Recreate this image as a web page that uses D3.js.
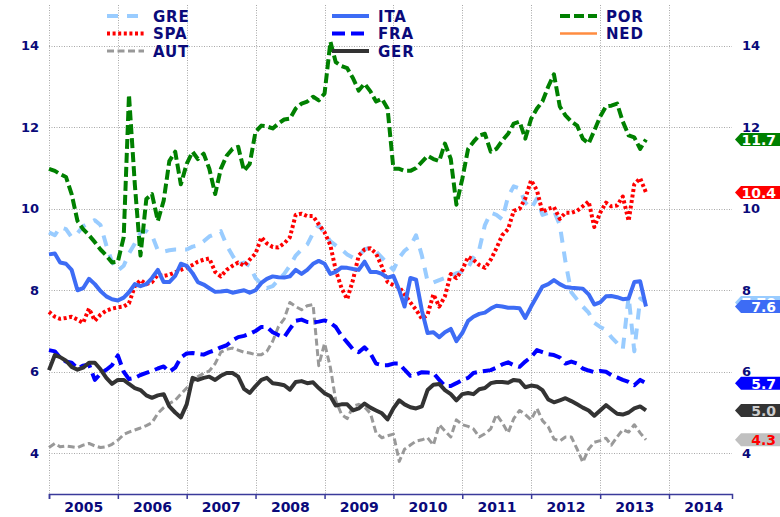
<!DOCTYPE html>
<html>
<head>
<meta charset="utf-8">
<script src="https://cdn.jsdelivr.net/npm/d3@7/dist/d3.min.js"></script>
<style>
  body { margin: 0; background: #fff; }
  svg { display: block; font-family: "DejaVu Sans", Verdana, sans-serif; font-weight: bold; }
</style>
</head>
<body>
<svg id="chart" width="780" height="517"></svg>
<script>
// monthly values, Jan 2005 .. Sep 2013
const firstMonth = new Date(2005, 0, 1);

const gre = [
  9.42, 9.35, 9.55, 9.5, 9.3, 9.4, 9.57, 9.65, 9.72, 9.6, 9.1, 8.7,
  8.48, 8.6, 8.9, 9.15, 9.42, 9.45, 9.35, 8.98, 8.95, 8.98, 9.0, 9.0,
  9.0, 9.07, 9.1, 9.2, 9.32, 9.38, 9.45, 9.1, 8.85, 8.63, 8.68, 8.6,
  8.3, 8.15, 8.05, 8.1, 8.25, 8.4, 8.6, 8.85, 9.0, 9.12, 9.4, 9.6,
  9.4, 9.2, 9.1, 9.0, 8.88, 8.8, 8.85, 9.0, 9.05, 8.95, 8.8, 8.65,
  8.5, 8.8, 8.97, 9.08, 9.35, 8.85, 8.22, 8.19, 8.25, 8.3, 8.34, 8.42,
  8.45, 8.55, 8.8, 9.0, 9.6, 9.9, 9.85, 9.74, 10.3, 10.55, 10.5, 10.15,
  10.0, 10.25, 9.85, 9.9, 9.95, 9.6, 8.7, 7.95, 7.77, 7.6, 7.45, 7.2,
  7.1, 7.03, 6.85, 6.7, 6.55, 7.85, 6.5, 7.8, 7.7
];
const spa = [
  7.47, 7.35, 7.3, 7.32, 7.35, 7.28, 7.2, 7.55, 7.25, 7.4, 7.5, 7.55,
  7.58, 7.6, 7.68, 8.1, 8.25, 8.15, 8.2, 8.38, 8.35, 8.38, 8.44, 8.5,
  8.56, 8.62, 8.7, 8.75, 8.78, 8.45, 8.34, 8.5, 8.6, 8.68, 8.6, 8.75,
  8.9, 9.3, 9.15, 9.06, 9.05, 9.15, 9.3, 9.85, 9.88, 9.82, 9.82, 9.62,
  9.42, 9.1, 8.5, 8.05, 7.78, 8.26, 8.85, 9.0, 9.03, 8.9, 8.58, 8.2,
  8.12, 8.08, 7.9, 7.7, 7.52, 7.3, 7.4, 7.9, 7.6, 7.85, 8.4, 8.3,
  8.5, 8.82, 8.75, 8.62, 8.55, 8.75, 9.03, 9.35, 9.5, 9.95, 10.0, 10.25,
  10.7, 10.45, 9.92, 10.0, 10.04, 9.75, 9.9, 9.9, 9.95, 10.06, 10.18, 9.55,
  9.9, 10.15, 10.06, 10.08, 10.3, 9.7, 10.6, 10.75, 10.4
];
const aut = [
  4.14, 4.24, 4.16, 4.18, 4.16, 4.14, 4.2, 4.24, 4.18, 4.14, 4.16, 4.22,
  4.32, 4.46, 4.52, 4.57, 4.62, 4.68, 4.75, 4.98, 5.12, 5.22, 5.3, 5.45,
  5.6, 5.75, 5.88, 5.96, 6.02, 6.2, 6.48, 6.55, 6.58, 6.53, 6.48, 6.46,
  6.42, 6.42, 6.5, 6.75, 7.1, 7.3, 7.7, 7.6, 7.52, 7.62, 7.65, 6.15,
  6.7, 6.1, 5.3, 4.95, 4.85, 5.15, 5.2, 5.13, 4.98, 4.5, 4.38, 4.43,
  4.47, 3.8, 4.1, 4.2, 4.3, 4.33, 4.38, 4.2, 4.7, 4.55, 4.4, 4.82,
  4.7, 4.66, 4.6, 4.4, 4.48, 4.6, 4.95, 4.75, 4.5, 4.85, 5.05, 4.95,
  4.82, 5.1, 4.8, 4.65, 4.35, 4.3, 4.4, 4.4, 4.1, 3.78, 4.1, 4.27,
  4.31, 4.37, 4.2, 4.4, 4.58, 4.52, 4.7, 4.5, 4.33
];
const ita = [
  8.88, 8.9, 8.68, 8.65, 8.5, 8.0, 8.05, 8.28, 8.15, 7.98, 7.85, 7.78,
  7.75, 7.82, 7.95, 8.15, 8.1, 8.15, 8.3, 8.5, 8.2, 8.2, 8.35, 8.65,
  8.6, 8.42, 8.2, 8.14, 8.05, 7.96, 7.97, 7.99, 7.94, 7.97, 8.0, 7.94,
  8.0, 8.18, 8.28, 8.34, 8.32, 8.31, 8.34, 8.5, 8.4, 8.5, 8.65, 8.72,
  8.65, 8.4, 8.45, 8.56, 8.55, 8.52, 8.5, 8.7, 8.45, 8.45, 8.4, 8.31,
  8.35, 8.0, 7.6, 8.3, 8.26, 7.5, 6.95, 6.97, 6.85, 6.97, 7.05, 6.75,
  6.95, 7.25, 7.35, 7.42, 7.45, 7.55, 7.62, 7.6, 7.57, 7.57, 7.56, 7.32,
  7.6, 7.85, 8.09, 8.15, 8.25, 8.15, 8.08, 8.06, 8.05, 8.04, 7.9, 7.65,
  7.7, 7.85, 7.86, 7.83, 7.78, 7.8, 8.2, 8.22, 7.6
];
const fra = [
  6.53, 6.5, 6.35, 6.25, 6.22, 6.08, 6.15, 6.18, 5.8, 5.95, 6.05, 6.16,
  6.4, 6.0, 5.82, 5.85, 5.92, 5.97, 6.02, 6.08, 6.13, 6.0, 6.1, 6.35,
  6.45, 6.46, 6.44, 6.42, 6.48, 6.53, 6.6, 6.65, 6.77, 6.85, 6.88, 6.93,
  7.0, 7.1, 7.1, 6.97, 6.9, 6.85, 7.05, 7.25, 7.28, 7.22, 7.21, 7.23,
  7.26, 7.2, 7.1, 6.88, 6.72, 6.55, 6.48, 6.6, 6.45, 6.2, 6.16, 6.16,
  6.2, 6.2, 6.05, 5.9, 5.93, 5.99, 5.98, 5.97, 5.8, 5.65, 5.65, 5.72,
  5.8, 5.85, 5.97, 6.0, 6.02, 6.04, 6.1, 6.18, 6.23, 6.16, 6.12, 6.25,
  6.36, 6.53, 6.48, 6.43, 6.41, 6.35, 6.2, 6.25, 6.2, 6.08, 6.03, 5.99,
  6.02, 6.0, 5.92, 5.86, 5.8, 5.75, 5.67, 5.8, 5.72
];
const ger = [
  6.04, 6.41, 6.36, 6.27, 6.12, 6.05, 6.1, 6.22, 6.22, 6.06, 5.85, 5.7,
  5.8, 5.8, 5.7, 5.6, 5.55, 5.42, 5.36, 5.42, 5.45, 5.15, 5.0, 4.88,
  5.2, 5.85, 5.8, 5.85, 5.88, 5.8, 5.9, 5.97, 5.97, 5.88, 5.58, 5.48,
  5.65, 5.8, 5.85, 5.72, 5.7, 5.67, 5.56, 5.75, 5.77, 5.72, 5.74, 5.6,
  5.47, 5.4, 5.17, 5.2, 5.2, 5.05, 5.1, 5.22, 5.12, 5.05, 4.98, 4.83,
  5.1, 5.3, 5.2, 5.13, 5.1, 5.15, 5.55, 5.68, 5.7, 5.55, 5.45, 5.3,
  5.45, 5.48, 5.45, 5.57, 5.6, 5.72, 5.75, 5.75, 5.73, 5.8, 5.78, 5.62,
  5.66, 5.64, 5.55, 5.32, 5.25, 5.3, 5.35, 5.28, 5.2, 5.12, 5.05, 4.92,
  5.05, 5.18, 5.08, 4.97, 4.95, 5.0, 5.1, 5.15, 5.05
];
const por = [
  10.98, 10.93, 10.85, 10.78, 10.36, 9.7, 9.5, 9.35, 9.18, 9.0, 8.85, 8.68,
  8.7, 9.3, 12.8, 10.6, 8.85, 10.24, 10.36, 9.7, 10.2, 11.17, 11.4, 10.6,
  11.1, 11.4, 11.22, 11.35, 10.98, 10.36, 10.98, 11.3, 11.47, 11.52, 10.93, 11.1,
  11.89, 12.04, 12.02, 11.97, 12.09, 12.19, 12.21, 12.46, 12.58, 12.63, 12.75, 12.66,
  12.83, 14.1, 13.6, 13.5, 13.45, 13.2, 12.9, 13.07, 12.88, 12.63, 12.7, 12.46,
  10.98, 10.98, 10.93, 10.93, 11.0, 11.15, 11.3, 11.22, 11.17, 11.6, 11.22, 10.1,
  10.73, 11.47, 11.64, 11.8, 11.84, 11.4, 11.47, 11.67, 11.84, 12.09, 12.14, 11.72,
  12.21, 12.46, 12.63, 13.0, 13.3, 12.51, 12.29, 12.14, 12.04, 11.72, 11.6, 11.92,
  12.26, 12.51, 12.53, 12.58, 12.14, 11.8, 11.75, 11.47, 11.7
];
const ned = [];

const seriesNames = ["GRE", "SPA", "AUT", "ITA", "FRA", "GER", "POR", "NED"];
const seriesValues = [gre, spa, aut, ita, fra, ger, por, ned];
const tagLabels = ["7.70", "10.4", "4.3", "7.6", "5.7", "5.0", "11.7", null];
const yTicks = [4, 6, 8, 10, 12, 14];
const yearTicks = d3.range(2005, 2015);

const styles = {
  GRE: { color: "#99ccff", width: 4, dash: "11,9", tagFill: "#99ccff", tagText: "#ffffff" },
  SPA: { color: "#ff0000", width: 4, dash: "3,2.6", tagFill: "#ff0000", tagText: "#ffffff" },
  AUT: { color: "#999999", width: 3, dash: "7,3.5", tagFill: "#c0c0c0", tagText: "#ff0000" },
  ITA: { color: "#3d6cf5", width: 4, dash: null, tagFill: "#3d6cf5", tagText: "#ffffff" },
  FRA: { color: "#0000ff", width: 4, dash: "13,6", tagFill: "#0000ff", tagText: "#ffffff" },
  GER: { color: "#333333", width: 4, dash: null, tagFill: "#333333", tagText: "#cccccc" },
  POR: { color: "#008000", width: 4, dash: "10,4", tagFill: "#008000", tagText: "#ffffff" },
  NED: { color: "#ff8c40", width: 2.5, dash: null }
};

const navy = "#0a0a7a";
const plotLeft = 49, plotRight = 732, plotTop = 5, plotBottom = 494;

const svg = d3.select("#chart");

const x = d3.scaleTime()
  .domain([new Date(2005, 0, 1), new Date(2014, 11, 1)])
  .range([plotLeft, plotRight]);
const y = d3.scaleLinear().domain([3, 15]).range([plotBottom, plotTop]);

// grid
const grid = svg.append("g").attr("stroke", "#a8a8a8").attr("stroke-width", 1)
  .attr("stroke-dasharray", "1,1.5");
grid.selectAll(".h").data(yTicks).enter().append("line")
  .attr("x1", plotLeft).attr("x2", plotRight)
  .attr("y1", d => Math.round(y(d)) + 0.5).attr("y2", d => Math.round(y(d)) + 0.5);
grid.selectAll(".v").data(yearTicks).enter().append("line")
  .attr("x1", d => Math.round(x(new Date(d, 0, 1))) + 0.5)
  .attr("x2", d => Math.round(x(new Date(d, 0, 1))) + 0.5)
  .attr("y1", plotTop).attr("y2", plotBottom);

// y axes (labels only)
const yLeft = svg.append("g").attr("transform", `translate(${plotLeft},0)`)
  .call(d3.axisLeft(y).tickValues(yTicks).tickSize(0).tickPadding(10).tickFormat(d3.format("d")));
const yRight = svg.append("g").attr("transform", "translate(742,0)")
  .call(d3.axisRight(y).tickValues(yTicks).tickSize(0).tickPadding(0).tickFormat(d3.format("d")));
[yLeft, yRight].forEach(g => {
  g.select(".domain").remove();
  g.selectAll("text").attr("fill", navy).style("font-size", "13px")
    .style("font-family", "'DejaVu Sans', Verdana, sans-serif").style("font-weight", "bold");
});

// x axis
const xTickAxis = svg.append("g").attr("transform", `translate(0,${plotBottom})`)
  .call(d3.axisBottom(x).tickValues(yearTicks.map(yr => new Date(yr, 0, 1)))
    .tickSize(5).tickFormat(""));
xTickAxis.select(".domain").attr("stroke", "#3a3a9a").attr("stroke-width", 1.5);
xTickAxis.selectAll(".tick line").attr("stroke", "#3a3a9a").attr("stroke-width", 1.5);

const xLabelAxis = svg.append("g").attr("transform", `translate(0,${plotBottom})`)
  .call(d3.axisBottom(x).tickValues(yearTicks.map(yr => new Date(yr, 6, 1)))
    .tickSize(0).tickPadding(8).tickFormat(d3.timeFormat("%Y")));
xLabelAxis.select(".domain").remove();
xLabelAxis.selectAll("text").attr("fill", navy).style("font-size", "14px")
  .style("font-family", "'DejaVu Sans', Verdana, sans-serif").style("font-weight", "bold");

// lines
const line = d3.line()
  .x((d, i) => x(d3.timeMonth.offset(firstMonth, i)))
  .y(d => y(d));

seriesNames.forEach((name, k) => {
  const vals = seriesValues[k];
  if (!vals.length) return;
  const s = styles[name];
  svg.append("path")
    .datum(vals)
    .attr("fill", "none")
    .attr("stroke", s.color)
    .attr("stroke-width", s.width)
    .attr("stroke-dasharray", s.dash)
    .attr("stroke-linejoin", "round")
    .attr("d", line);
});

// value tags at the right edge
seriesNames.forEach((name, k) => {
  const label = tagLabels[k];
  if (!label) return;
  const vals = seriesValues[k];
  const s = styles[name];
  const ty = y(vals[vals.length - 1]);
  const g = svg.append("g").attr("transform", `translate(0,${ty})`);
  g.append("path")
    .attr("d", "M735,0 L741,-6.5 L790,-6.5 L790,6.5 L741,6.5 Z")
    .attr("fill", s.tagFill);
  g.append("text")
    .attr("x", 776).attr("y", 5.5)
    .attr("text-anchor", "end")
    .attr("fill", s.tagText)
    .style("font-size", "14px")
    .text(label);
});

// legend: three columns
const legendCols = [["GRE", "SPA", "AUT"], ["ITA", "FRA", "GER"], ["POR", "NED"]];
const legendX = [107, 332, 560];
legendCols.forEach((col, c) => {
  col.forEach((name, r) => {
    const s = styles[name];
    const ly = 16 + r * 17.5;
    svg.append("line")
      .attr("x1", legendX[c]).attr("x2", legendX[c] + 37)
      .attr("y1", ly).attr("y2", ly)
      .attr("stroke", s.color)
      .attr("stroke-width", s.width)
      .attr("stroke-dasharray", s.dash);
    svg.append("text")
      .attr("x", legendX[c] + 46).attr("y", ly + 5.5)
      .attr("fill", navy)
      .style("font-size", "15px")
      .style("letter-spacing", "0.8px")
      .text(name);
  });
});
</script>
</body>
</html>
